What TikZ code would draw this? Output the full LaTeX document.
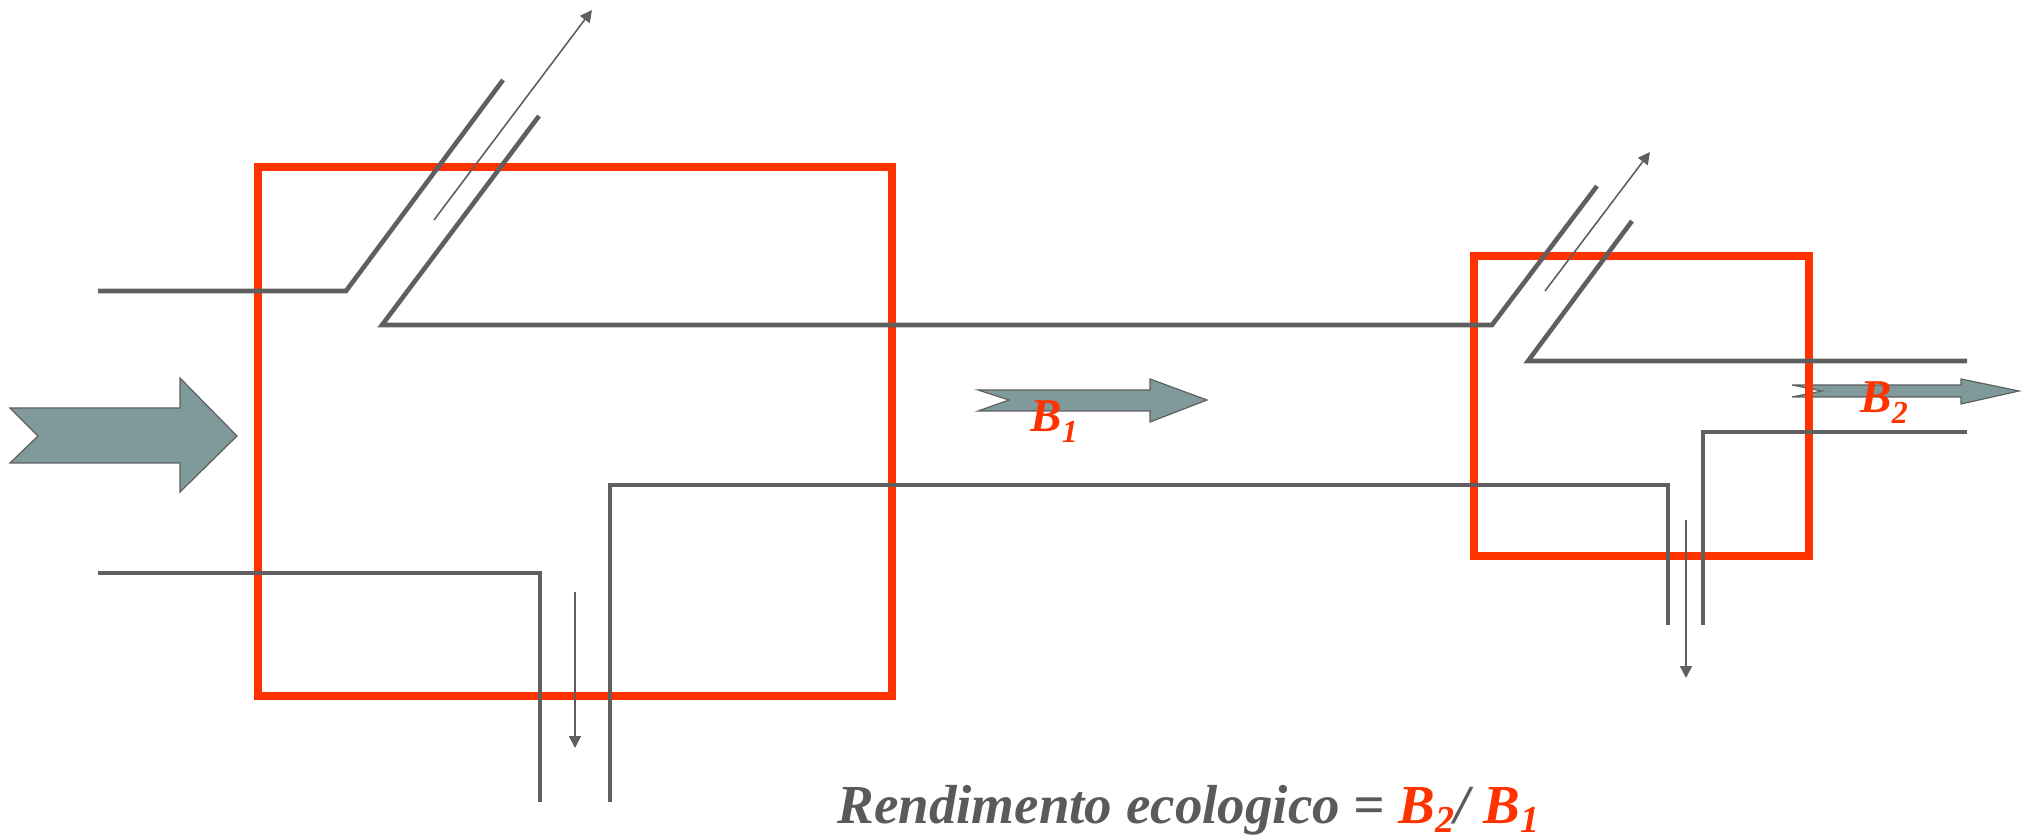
\documentclass[tikz,border=0pt]{standalone}
\usepackage{fontspec}
\setmainfont{Liberation Serif}
\usetikzlibrary{arrows.meta}
\definecolor{pipegray}{RGB}{95,95,95}
\definecolor{flowfill}{RGB}{128,153,155}
\definecolor{cellred}{RGB}{255,51,0}
\definecolor{textgray}{RGB}{90,90,90}
\newcommand{\lowidx}[1]{\raisebox{-0.23em}{\fontsize{16}{16}\selectfont #1}}
\newcommand{\bigidx}[1]{\raisebox{-4.5pt}{\fontsize{19}{19}\selectfont #1}}

\begin{document}
\begin{tikzpicture}[x=0.5pt,y=-0.5pt,
    pipe/.style={draw=pipegray,line width=2.3pt},
    cell/.style={draw=cellred,line width=4pt,shape=rectangle,inner sep=0pt},
    loss/.style={draw=pipegray,line width=0.8pt,-{Triangle[length=6pt,width=6pt]}},
    flow/.style={fill=flowfill,draw=pipegray,line width=0.6pt},
    lab/.style={text=cellred,font=\fontsize{23.5}{28}\selectfont\bfseries\itshape,inner sep=0pt,anchor=base west}]
      \useasboundingbox (0,0) rectangle (2029,839);
      % energy flows
      \path[flow] (10,408) -- (180,408) -- (180,378) -- (237,436) -- (180,492) -- (180,463) -- (10,463) -- (38,436) -- cycle;
      \path[flow] (978,390) -- (1150,390) -- (1150,379) -- (1207,400) -- (1150,422) -- (1150,411) -- (978,411) -- (1009,400) -- cycle;
      \path[flow] (1792,385) -- (1961,385) -- (1961,379) -- (2019,391) -- (1961,404) -- (1961,397) -- (1792,397) -- (1822,391) -- cycle;
      % trophic levels
      \node[cell,minimum width=317pt,minimum height=264.5pt] (lvl1) at (574.5,431.5) {};
      \node[cell,minimum width=167.5pt,minimum height=150pt] (lvl2) at (1641.5,406) {};
      % pipe corners
      \coordinate (a0) at (98,291);   \coordinate (a1) at (346,291);  \coordinate (a2) at (503,80);
      \coordinate (b0) at (539,116);  \coordinate (b1) at (382,325);  \coordinate (b2) at (1492,325);
      \coordinate (b3) at (1597,186);
      \coordinate (c0) at (1632,221); \coordinate (c1) at (1528,361); \coordinate (c2) at (1967,361);
      \coordinate (d0) at (1967,432); \coordinate (d1) at (1703,432); \coordinate (d2) at (1703,625);
      \coordinate (e0) at (1668,625); \coordinate (e1) at (1668,485); \coordinate (e2) at (610,485);
      \coordinate (e3) at (610,802);
      \coordinate (f0) at (98,573);   \coordinate (f1) at (540,573);  \coordinate (f2) at (540,802);
      \draw[pipe] (a0) -- (a1) -- (a2);
      \draw[pipe] (b0) -- (b1) -- (b2) -- (b3);
      \draw[pipe] (c0) -- (c1) -- (c2);
      \draw[pipe] (d0) -- (d1) -- (d2);
      \draw[pipe] (e0) -- (e1) -- (e2) -- (e3);
      \draw[pipe] (f0) -- (f1) -- (f2);
      % losses
      \coordinate (r1s) at (434,220);  \coordinate (r1e) at (592,10);
      \coordinate (r2s) at (1545,291); \coordinate (r2e) at (1650,152);
      \coordinate (w1s) at (575,592);  \coordinate (w1e) at (575,748);
      \coordinate (w2s) at (1686,520); \coordinate (w2e) at (1686,678);
      \path[every edge/.style={loss}]
      (r1s) edge (r1e)
      (r2s) edge (r2e)
      (w1s) edge (w1e)
      (w2s) edge (w2e)
      ;
      % labels
      \node[lab] (b1lab) at (1030,432) {B\lowidx{1}};
      \node[lab] (b2lab) at (1860,413) {B\lowidx{2}};
      \node[lab,text=textgray,font=\fontsize{27.5}{33}\selectfont\bfseries\itshape] (yield) at (837,823)
        {Rendimento ecologico = \textcolor{cellred}{B\bigidx{2}}/ \textcolor{cellred}{B\bigidx{1}}};
\end{tikzpicture}
\end{document}
